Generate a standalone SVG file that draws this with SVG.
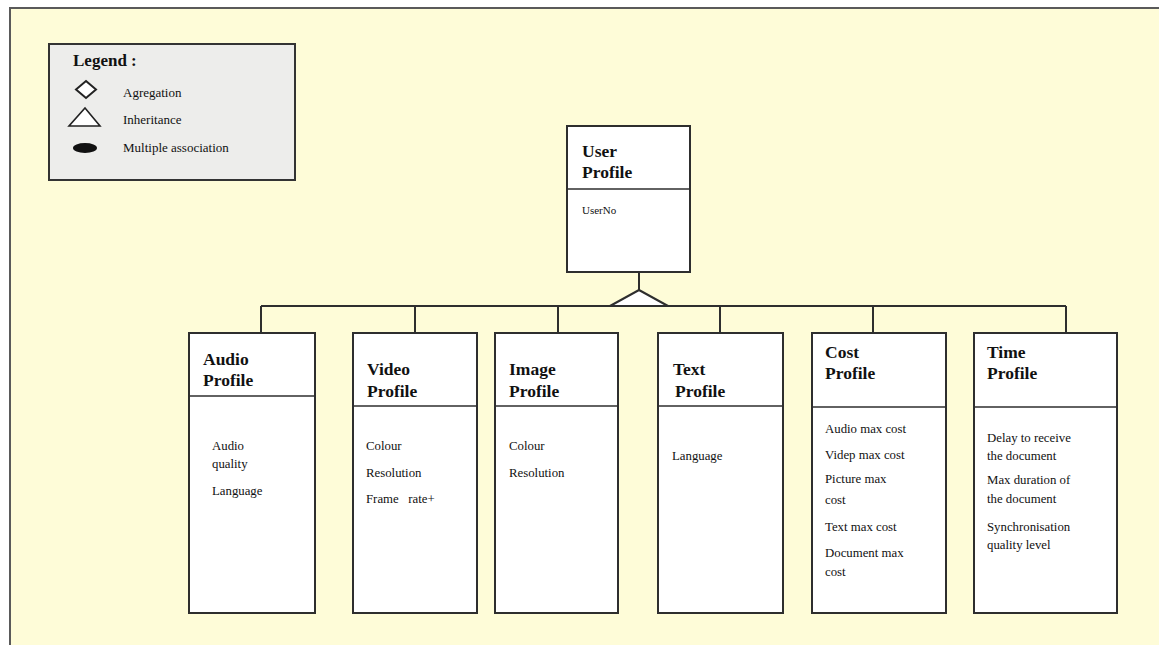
<svg xmlns="http://www.w3.org/2000/svg" width="1159" height="645" viewBox="0 0 1159 645">
<style>
.box{fill:#ffffff;stroke:#2e2e2e;stroke-width:2}
.div{stroke:#2e2e2e;stroke-width:1.6}
.conn{stroke:#2e2e2e;stroke-width:2;fill:none}
.title{font-family:"Liberation Serif",serif;font-weight:bold;font-size:17.5px;fill:#111111}
.attr{font-family:"Liberation Serif",serif;font-size:12.8px;fill:#111111}
.leg{font-family:"Liberation Serif",serif;font-size:13px;fill:#111111}
</style>
<rect x="0" y="0" width="1159" height="645" fill="#ffffff"/>
<rect x="10" y="8" width="1160" height="650" fill="#fefcd8" stroke="#5a5a5a" stroke-width="2"/>
<g id="legend">
<rect x="49" y="44" width="246" height="136" fill="#ededeb" stroke="#333" stroke-width="2"/>
<text x="73" y="66" class="title" style="font-size:17px">Legend :</text>
<polygon points="86,81 96,89.5 86,98 76,89.5" fill="#ffffff" stroke="#222" stroke-width="2"/>
<text x="123" y="97" class="leg">Agregation</text>
<polygon points="85,108 100,126 69,126" fill="#ffffff" stroke="#222" stroke-width="1.6"/>
<text x="123" y="124" class="leg">Inheritance</text>
<ellipse cx="85" cy="148" rx="12" ry="5" fill="#111"/>
<text x="123" y="152" class="leg">Multiple association</text>
</g>
<g id="connectors">
<line class="conn" x1="639" y1="272" x2="639" y2="290"/>
<line class="conn" x1="261" y1="306" x2="1066" y2="306"/>
<line class="conn" x1="261" y1="306" x2="261" y2="333"/>
<line class="conn" x1="415" y1="306" x2="415" y2="333"/>
<line class="conn" x1="558" y1="306" x2="558" y2="333"/>
<line class="conn" x1="720" y1="306" x2="720" y2="333"/>
<line class="conn" x1="873" y1="306" x2="873" y2="333"/>
<line class="conn" x1="1066" y1="306" x2="1066" y2="333"/>
<polygon points="639,290 668,306 610,306" fill="#ffffff" stroke="#2e2e2e" stroke-width="2"/>
</g>
<g id="user-profile">
<rect class="box" x="567" y="126" width="123" height="146"/>
<line class="div" x1="567" y1="189" x2="690" y2="189"/>
<text class="title" x="582" y="157">User</text>
<text class="title" x="582" y="178">Profile</text>
<text class="attr" x="582" y="214" style="font-size:11px">UserNo</text>
</g>
<g id="audio-profile">
<rect class="box" x="189" y="333" width="126" height="280"/>
<line class="div" x1="189" y1="396" x2="315" y2="396"/>
<text class="title" x="203" y="365">Audio</text>
<text class="title" x="203" y="386">Profile</text>
<text class="attr" x="212" y="450">Audio</text>
<text class="attr" x="212" y="468">quality</text>
<text class="attr" x="212" y="495">Language</text>
</g>
<g id="video-profile">
<rect class="box" x="353" y="333" width="124" height="280"/>
<line class="div" x1="353" y1="406" x2="477" y2="406"/>
<text class="title" x="367" y="375">Video</text>
<text class="title" x="367" y="397">Profile</text>
<text class="attr" x="366" y="450">Colour</text>
<text class="attr" x="366" y="477">Resolution</text>
<text class="attr" x="366" y="503" xml:space="preserve">Frame   rate+</text>
</g>
<g id="image-profile">
<rect class="box" x="495" y="333" width="123" height="280"/>
<line class="div" x1="495" y1="406" x2="618" y2="406"/>
<text class="title" x="509" y="375">Image</text>
<text class="title" x="509" y="397">Profile</text>
<text class="attr" x="509" y="450">Colour</text>
<text class="attr" x="509" y="477">Resolution</text>
</g>
<g id="text-profile">
<rect class="box" x="658" y="333" width="125" height="280"/>
<line class="div" x1="658" y1="406" x2="783" y2="406"/>
<text class="title" x="673" y="375">Text</text>
<text class="title" x="675" y="397">Profile</text>
<text class="attr" x="672" y="460">Language</text>
</g>
<g id="cost-profile">
<rect class="box" x="812" y="333" width="134" height="280"/>
<line class="div" x1="812" y1="407" x2="946" y2="407"/>
<text class="title" x="825" y="358">Cost</text>
<text class="title" x="825" y="379">Profile</text>
<text class="attr" x="825" y="433">Audio max cost</text>
<text class="attr" x="825" y="459">Videp max cost</text>
<text class="attr" x="825" y="483">Picture max</text>
<text class="attr" x="825" y="504">cost</text>
<text class="attr" x="825" y="531">Text max cost</text>
<text class="attr" x="825" y="557">Document max</text>
<text class="attr" x="825" y="576">cost</text>
</g>
<g id="time-profile">
<rect class="box" x="974" y="333" width="143" height="280"/>
<line class="div" x1="974" y1="407" x2="1117" y2="407"/>
<text class="title" x="987" y="358">Time</text>
<text class="title" x="987" y="379">Profile</text>
<text class="attr" x="987" y="442">Delay to receive</text>
<text class="attr" x="987" y="460">the document</text>
<text class="attr" x="987" y="484">Max duration of</text>
<text class="attr" x="987" y="503">the document</text>
<text class="attr" x="987" y="531">Synchronisation</text>
<text class="attr" x="987" y="549">quality level</text>
</g>
</svg>
